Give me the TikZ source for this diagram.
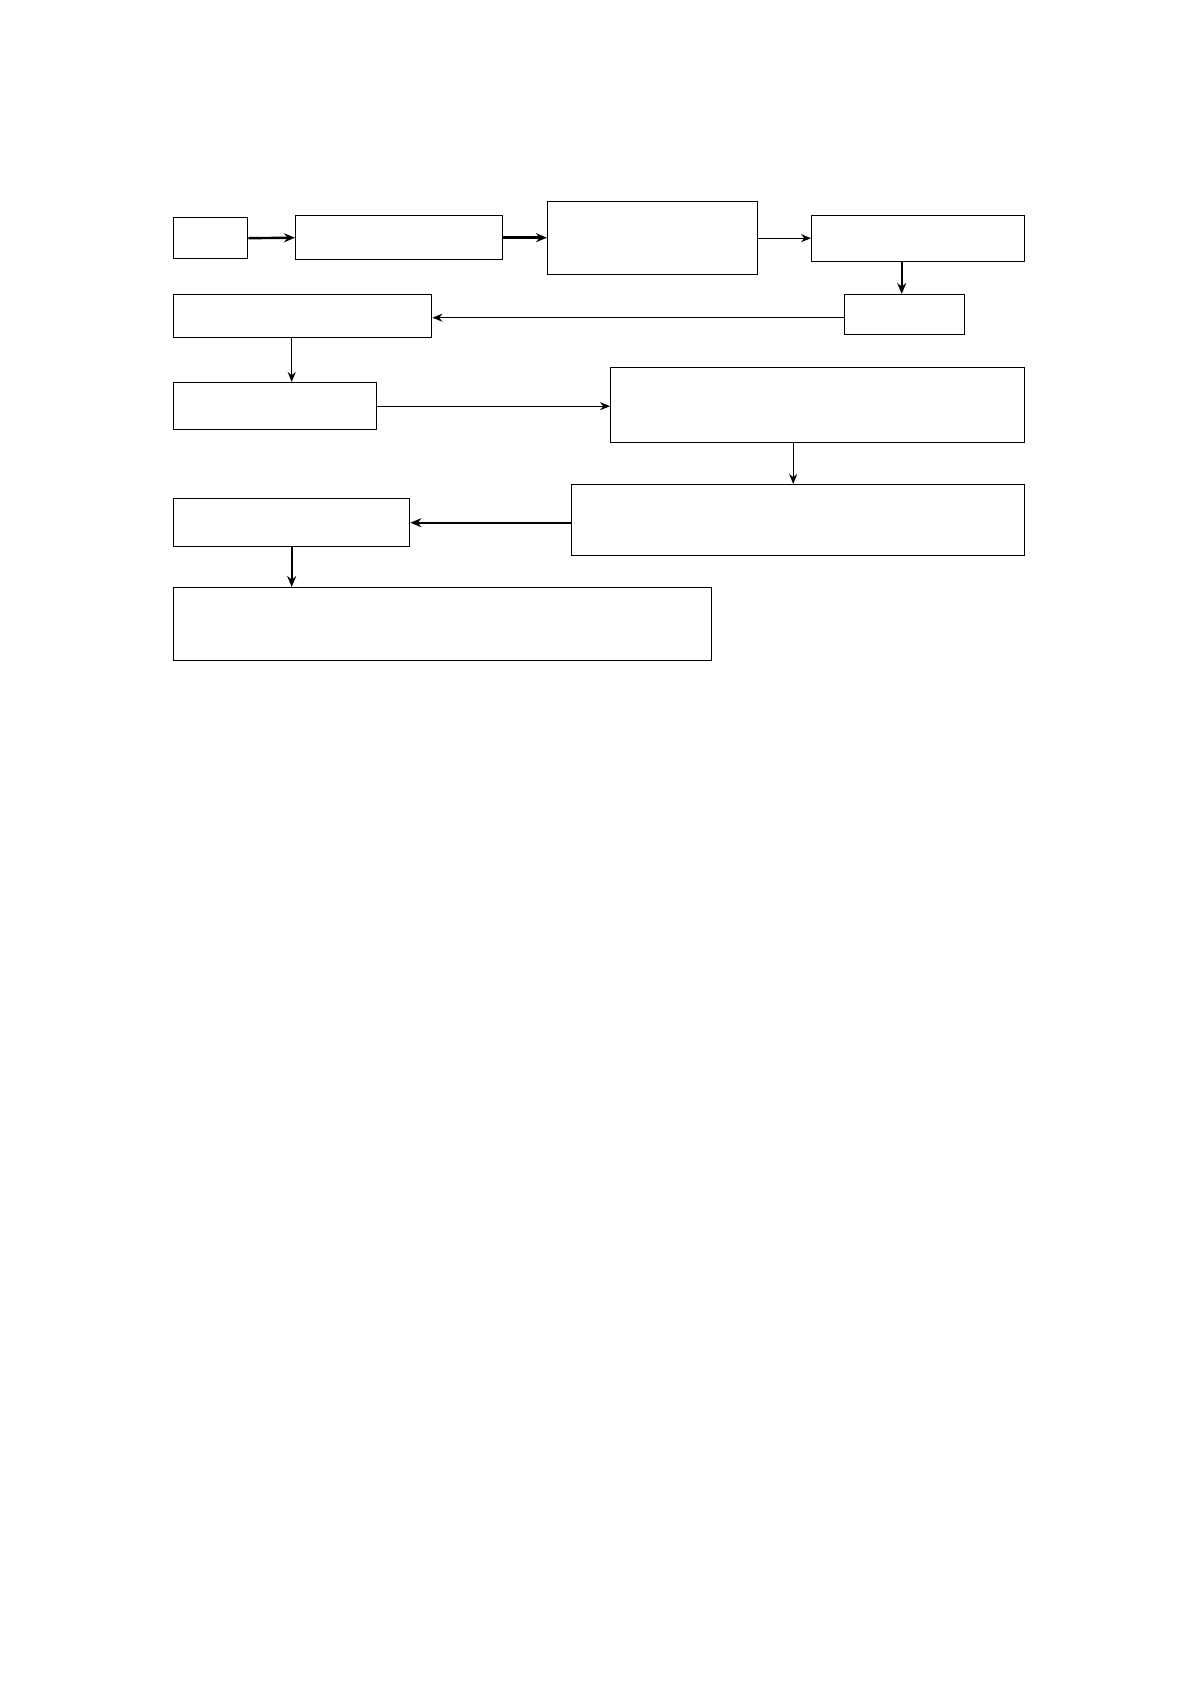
\documentclass[tikz,border=0pt]{standalone}
\usepackage{tikz}
\usetikzlibrary{arrows.meta}

\begin{document}
\begin{tikzpicture}[x=0.5pt,y=-0.5pt,
    box/.style={draw,line width=0.7pt,inner sep=0pt,anchor=north west},
    thin/.style={-{Stealth[length=5pt,width=4pt]},line width=0.6pt},
    bold/.style={-{Stealth[length=5.5pt,width=4.5pt]},line width=1.2pt}]
    % 页面大小
    \useasboundingbox (0,0) rectangle (1192,1684);

    % 第一行
    \node[box,minimum width=37pt,minimum height=20.5pt] (start) at (173,217) {};
    \node[box,minimum width=103.5pt,minimum height=22pt] (prep) at (295,215) {};
    \node[box,minimum width=105pt,minimum height=36.5pt] (check) at (547,201) {};
    \node[box,minimum width=106.5pt,minimum height=23pt] (plan) at (811,215) {};

    % 第二行
    \node[box,minimum width=60pt,minimum height=20pt] (audit) at (844,294) {};
    \node[box,minimum width=129pt,minimum height=21.5pt] (notice) at (173,294) {};

    % 第三行
    \node[box,minimum width=101.5pt,minimum height=23.5pt] (apply) at (173,382) {};
    \node[box,minimum width=207pt,minimum height=37.5pt] (review) at (610,367) {};

    % 第四行
    \node[box,minimum width=226.5pt,minimum height=35.5pt] (result) at (571,484) {};
    \node[box,minimum width=118pt,minimum height=24pt] (report) at (173,498) {};

    % 最后一行
    \node[box,minimum width=269pt,minimum height=36.5pt] (archive) at (173,587) {};

    % 箭头
    \draw[bold] (start.east) -- (prep.west);
    \draw[bold] (prep.east) -- (prep.east -| check.west);
    \draw[thin] (check.east) -- (check.east -| plan.west);
    \draw[bold] ([xshift=-1.5pt]audit.north |- plan.south) -- ([xshift=-1.5pt]audit.north);
    \draw[thin] ([yshift=-1.5pt]audit.west) -- ([yshift=-1.5pt]audit.west -| notice.east);
    \draw[thin] ([xshift=-5.5pt]notice.south) -- ([xshift=-5.5pt]notice.south |- apply.north);
    \draw[thin] (apply.east) -- (apply.east -| review.west);
    \draw[thin] ([xshift=-2.5pt]result.north |- review.south) -- ([xshift=-2.5pt]result.north);
    \draw[bold] (result.west |- report.east) -- (report.east);
    \draw[bold] (report.south) -- (report.south |- archive.north);

\end{tikzpicture}
\end{document}
